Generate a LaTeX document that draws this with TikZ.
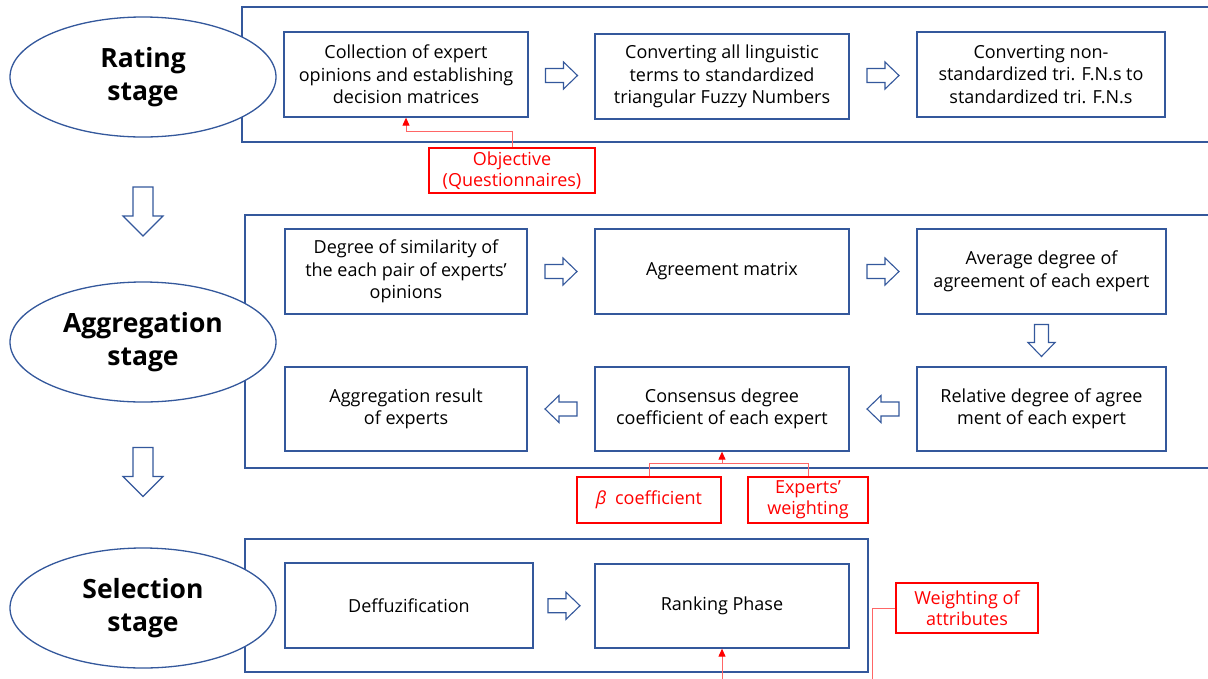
\documentclass[tikz,border=0pt]{standalone}
\usepackage{fontspec}
\setmainfont{Open Sans}
\usetikzlibrary{shapes.geometric,calc,arrows.meta}
\definecolor{frameblue}{RGB}{52,88,156}
\begin{document}
\begin{tikzpicture}[x=1pt,y=1pt,
  frame/.style={draw=frameblue,line width=1.3pt,rectangle,inner sep=0pt},
  stepbox/.style={draw=frameblue,line width=1.3pt,fill=white,align=center,inner sep=2pt,
    font=\fontsize{18}{22.5}\selectfont},
  stage/.style={ellipse,draw=frameblue,line width=1.3pt,fill=white,minimum width=266pt,
    minimum height=120pt,inner sep=0pt,align=center,font=\bfseries\fontsize{26.5}{33}\selectfont},
  note/.style={draw=red,line width=1.3pt,fill=white,text=red,align=center,inner sep=2pt,
    font=\fontsize{18}{21}\selectfont},
  noteline/.style={draw=red!60,line width=1pt},
  notearrow/.style={noteline,-{Triangle[width=7pt,length=8pt,color=red]}},
  blockarrow/.style={draw=frameblue,line width=1.1pt,fill=white,line join=miter},
  smallarrow/.pic={\draw[blockarrow] (-16,-7) -- (2,-7) -- (2,-13.5) -- (16,0)
    -- (2,13.5) -- (2,7) -- (-16,7) -- cycle;},
  bigarrow/.pic={\draw[blockarrow] (-24.5,-10) -- (4.5,-10) -- (4.5,-20) -- (24.5,0)
    -- (4.5,20) -- (4.5,10) -- (-24.5,10) -- cycle;}
]
\useasboundingbox (0,0) rectangle (1208,-678);
\fill[white] (0,0) rectangle (1208,-678);
\clip (0,0) rectangle (1208,-678);

% stage frames (open to the right)
\node[frame,minimum width=976pt,minimum height=135pt] (rf) at (730,-74.5) {};
\node[frame,minimum width=973pt,minimum height=253pt] (af) at (731.5,-341.5) {};
\node[frame,minimum width=623pt,minimum height=133pt] (sf) at (556.5,-605.5) {};

% rating stage steps
\node[stepbox,minimum width=244pt,minimum height=85pt] (r1) at (406,-74.5)
  {Collection of expert\\opinions and establishing\\decision matrices};
\node[stepbox,minimum width=254pt,minimum height=85pt] (r2) at (722,-76.5)
  {Converting all linguistic\\terms to standardized\\triangular Fuzzy Numbers};
\node[stepbox,minimum width=248pt,minimum height=85pt] (r3) at (1041,-74.5)
  {Converting non-\\standardized tri. F.N.s to\\standardized tri. F.N.s};

% aggregation stage steps
\node[stepbox,minimum width=242pt,minimum height=85pt] (a1) at (406,-271.5)
  {Degree of similarity of\\the each pair of experts’\\opinions};
\node[stepbox,minimum width=254pt,minimum height=85pt] (a2) at (722,-271.5)
  {Agreement matrix};
\node[stepbox,minimum width=249pt,minimum height=85pt] (a3) at (1041.5,-271.5)
  {Average degree of\\agreement of each expert};
\node[stepbox,minimum width=242pt,minimum height=84pt] (a6) at (406,-409)
  {Aggregation result\\of experts};
\node[stepbox,minimum width=254pt,minimum height=84pt] (a5) at (722,-409)
  {Consensus degree\\coefficient of each expert};
\node[stepbox,minimum width=249pt,minimum height=84pt] (a4) at (1041.5,-409)
  {Relative degree of agree\\ment of each expert};

% selection stage steps
\node[stepbox,minimum width=248pt,minimum height=85pt] (s1) at (409,-605.5)
  {Deffuzification};
\node[stepbox,minimum width=254pt,minimum height=84pt] (s2) at (722,-606)
  {Ranking Phase};

% stage labels
\node[stage] (rs) at (143,-77) {Rating\\stage};
\node[stage] (as) at (143,-342) {Aggregation\\stage};
\node[stage] (ss) at (143,-608) {Selection\\stage};

% block arrows between steps
\pic at ($(r1.east)!0.5!(r2.west)$) {smallarrow};
\pic at ($(r2.east)!0.5!(r3.west)$) {smallarrow};
\pic at ($(a1.east)!0.5!(a2.west)$) {smallarrow};
\pic at ($(a2.east)!0.5!(a3.west)$) {smallarrow};
\pic[rotate=-90] at ($(a3.south)!0.5!(a4.north)$) {smallarrow};
\pic[rotate=180] at ($(a4.west)!0.5!(a5.east)$) {smallarrow};
\pic[rotate=180] at ($(a5.west)!0.5!(a6.east)$) {smallarrow};
\pic at ($(s1.east)!0.5!(s2.west)$) {smallarrow};

% block arrows between stages
\pic[rotate=-90] at (143,-211.5) {bigarrow};
\pic[rotate=-90] at (143,-472) {bigarrow};

% inputs
\node[note,minimum width=166pt,minimum height=45pt] (obj) at (512,-170.5)
  {Objective\\(Questionnaires)};
\node[note,minimum width=144pt,minimum height=46pt] (beta) at (649,-500)
  {{\itshape β}\hspace{4pt} coefficient};
\node[note,minimum width=120pt,minimum height=46pt] (ew) at (808,-500)
  {Experts’\\weighting};
\node[note,minimum width=142pt,minimum height=50pt] (wt) at (967,-608)
  {Weighting of\\attributes};

\draw[notearrow] (obj.north) -- ++(0,16) -| (r1.south);
\draw[noteline] (beta.north) -- ++(0,13) coordinate (bj) -| (ew.north);
\draw[notearrow] (a5.south |- bj) -- (a5.south);
\coordinate (rin) at ($(s2.south)+(0,-40)$);
\draw[notearrow] (rin) -- (s2.south);
\coordinate (win) at ($(wt.west)+(-23,-90)$);
\draw[noteline] (wt.west) -| (win);
\end{tikzpicture}
\end{document}
